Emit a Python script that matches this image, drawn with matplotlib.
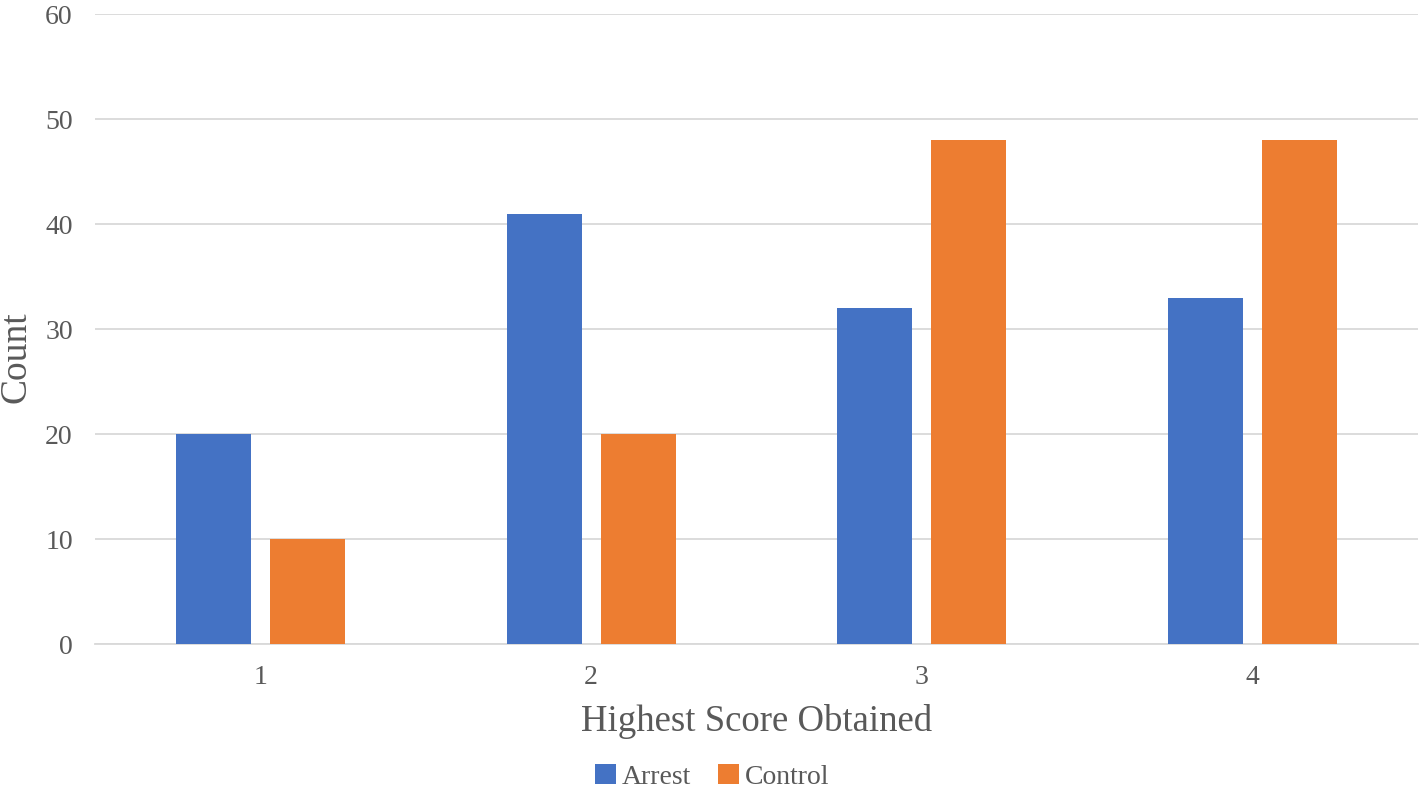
import numpy as np
from matplotlib import pyplot as plt

categories = ['1', '2', '3', '4']
arrest = [20, 41, 32, 33]
control = [10, 20, 48, 48]

plt.rcParams['font.family'] = ['Liberation Serif', 'DejaVu Serif']
text_color = '#595959'

fig = plt.figure(figsize=(14.24, 7.88), dpi=100)
ax = fig.add_axes([0.0667, 0.1827, 0.9291, 0.7995])

x = np.arange(len(categories))
w = 0.227
off = 0.142
ax.bar(x - off, arrest, w, color='#4472C4', label='Arrest', zorder=3)
ax.bar(x + off, control, w, color='#ED7D31', label='Control', zorder=3)

ax.set_xlim(-0.5, len(categories) - 0.5)
ax.set_ylim(0, 60)
ax.set_yticks(range(0, 61, 10))
ax.set_xticks(x)
ax.set_xticklabels(categories)
ax.yaxis.grid(True, color='#d9d9d9', linewidth=1.3, zorder=0)
for s in ['top', 'right', 'left']:
    ax.spines[s].set_visible(False)
ax.spines['bottom'].set_color('#d9d9d9')
ax.spines['bottom'].set_linewidth(1.3)
ax.tick_params(axis='both', length=0, labelsize=20, colors=text_color)
ax.tick_params(axis='y', pad=16)
ax.tick_params(axis='x', pad=15)

ax.set_xlabel('Highest Score Obtained', fontsize=26.5, color=text_color, labelpad=10)
fig.text(0.0115, 1 - 357 / 788, 'Count', rotation=90, fontsize=27, color=text_color,
         ha='center', va='center')

fig.legend(*ax.get_legend_handles_labels(), loc='center', bbox_to_anchor=(0.5, 1 - 777 / 788),
           ncol=2, frameon=False, fontsize=20, labelcolor=text_color,
           handlelength=0.75, handleheight=0.75, handletextpad=0.2, columnspacing=1.0,
           borderpad=0)

plt.savefig('out.png', dpi=100)
